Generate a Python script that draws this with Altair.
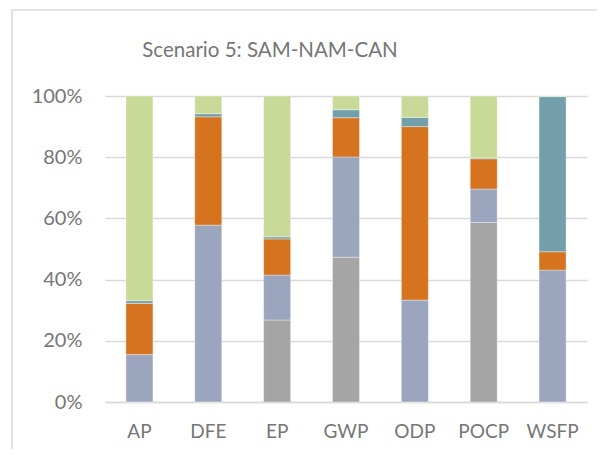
import altair as alt
import pandas as pd

categories = ["AP", "DFE", "EP", "GWP", "ODP", "POCP", "WSFP"]
series = ["Series 1", "Series 2", "Series 3", "Series 4", "Series 5"]
colors = ["#a5a5a5", "#9ba5bd", "#d5731f", "#729faa", "#c8d998"]

s1 = [0.0, 0.0, 26.8, 47.3, 0.0, 58.7, 0.0]
s2 = [15.5, 57.8, 14.7, 32.8, 33.3, 10.9, 43.1]
s3 = [16.7, 35.4, 11.8, 12.8, 56.7, 9.9, 6.0]
s4 = [0.9, 1.0, 0.7, 2.6, 3.0, 0.3, 50.7]
s5 = [66.9, 5.8, 46.0, 4.5, 7.0, 20.2, 0.2]

rows = []
for si, (name, vals) in enumerate(zip(series, [s1, s2, s3, s4, s5])):
    for c, v in zip(categories, vals):
        rows.append({"category": c, "series": name, "value": v, "order": si})
df = pd.DataFrame(rows)

label_color = "#767676"
grid_color = "#d9d9d9"
font = "Lato"

bars = alt.Chart(df).mark_bar(size=27, stroke="white", strokeWidth=0.6, strokeOpacity=0.6).encode(
    x=alt.X("category:N", sort=categories, title=None,
            axis=alt.Axis(labelAngle=0, ticks=False, domain=True, domainColor=grid_color,
                          domainWidth=1.5, labelFontSize=19, labelColor=label_color,
                          labelFont=font, labelPadding=20)),
    y=alt.Y("value:Q", stack="normalize", title=None,
            scale=alt.Scale(domain=[0, 1]),
            axis=alt.Axis(format=".0%", values=[0, 0.2, 0.4, 0.6, 0.8, 1.0], ticks=False,
                          domain=False, grid=True, gridColor=grid_color, gridWidth=1.5,
                          labelFontSize=20, labelColor=label_color, labelFont=font,
                          labelPadding=23)),
    color=alt.Color("series:N", sort=series,
                    scale=alt.Scale(domain=series, range=colors), legend=None),
    order=alt.Order("order:Q"),
)

frame_df = pd.DataFrame({"k": [0]})
left_border = alt.Chart(frame_df).mark_rule(color=grid_color, strokeWidth=1.5).encode(
    x=alt.value(-93), y=alt.value(-86), y2=alt.value(370))
top_border = alt.Chart(frame_df).mark_rule(color=grid_color, strokeWidth=1.5).encode(
    x=alt.value(-93), x2=alt.value(510), y=alt.value(-86))

chart = alt.layer(bars, left_border, top_border).properties(
    width=482, height=306,
    title=alt.Title("Scenario 5: SAM-NAM-CAN", fontSize=20.5, font=font, fontWeight="normal",
                    color=label_color, anchor="middle", frame="group", baseline="alphabetic",
                    dx=-76, dy=68, offset=0),
    padding={"left": 97, "top": 88, "right": 10, "bottom": 47},
    autosize=alt.AutoSizeParams(type="none"),
).configure_view(stroke=None)

chart.save("out.html", embed_options={"renderer": "svg", "actions": False})
